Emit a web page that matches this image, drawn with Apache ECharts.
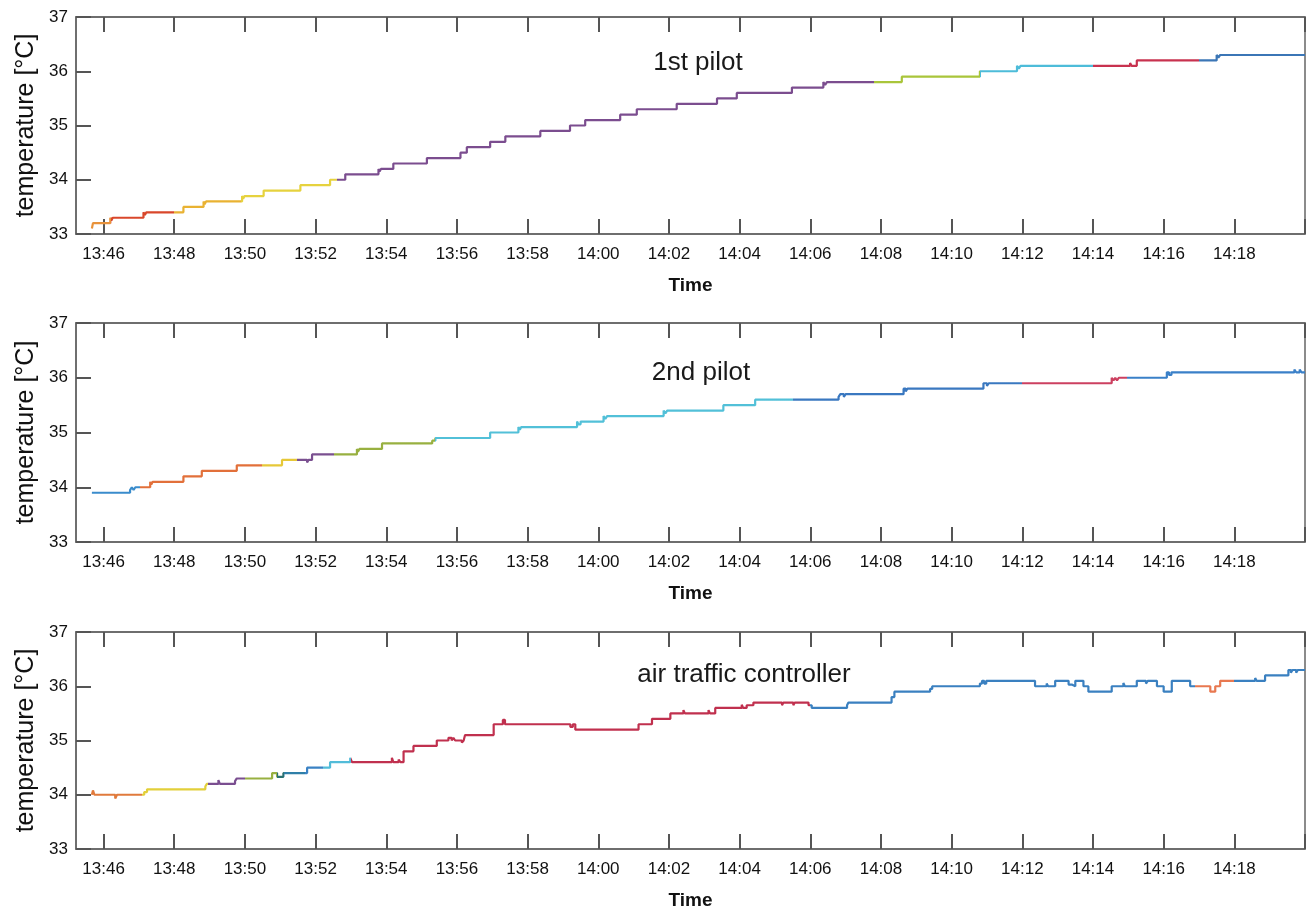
<!DOCTYPE html>
<html>
<head>
<meta charset="utf-8">
<script src="https://cdn.jsdelivr.net/npm/echarts@6/dist/echarts.min.js"></script>
<style>
html,body{margin:0;padding:0;background:#fff;}
#chart{width:1309px;height:912px;}
</style>
</head>
<body>
<div id="chart"></div>
<script>
// x values are minutes after 13:00
const xTickValues = [46,48,50,52,54,56,58,60,62,64,66,68,70,72,74,76,78,80];
const xLabelValues = [46,48,50,52,54,56,58,60,62,64,66,68,70,72,74,76,78];
const xTickLabels = ['13:46','13:48','13:50','13:52','13:54','13:56','13:58','14:00','14:02','14:04','14:06','14:08','14:10','14:12','14:14','14:16','14:18'];
const yTicks = [33,34,35,36,37];
const panelTitles = ['1st pilot','2nd pilot','air traffic controller'];

// 1st pilot: change points (time, temperature)
const p1Time = [45.67,45.70,46.19,46.22,46.26,47.13,47.17,47.21,48.26,48.83,48.86,48.90,49.92,49.95,49.99,50.53,51.57,52.41,52.84,53.78,53.81,53.85,54.20,55.15,56.10,56.28,56.94,57.37,58.36,59.20,59.63,60.62,61.09,62.22,63.36,63.92,65.48,66.37,66.42,66.47,68.59,70.80,71.85,71.90,71.95,75.05,75.09,75.24,77.50,77.55,77.60,80.00];
const p1Temp = [33.1,33.2,33.3,33.25,33.3,33.4,33.35,33.4,33.5,33.6,33.55,33.6,33.7,33.65,33.7,33.8,33.9,34.0,34.1,34.2,34.15,34.2,34.3,34.4,34.5,34.6,34.7,34.8,34.9,35.0,35.1,35.2,35.3,35.4,35.5,35.6,35.7,35.8,35.75,35.8,35.9,36.0,36.1,36.05,36.1,36.15,36.1,36.2,36.3,36.25,36.3,36.3];
const p1ColorStart = [45.0,46.2,48.0,49.9,52.6,67.8,70.8,74.0,77.0];
const p1Colors = ['#e8923a','#d9472b','#e9b232','#e6d23e','#7b4d8f','#a9c53a','#4dbcd9','#c8324f','#3b76b6'];

// 2nd pilot
const p2Time = [45.67,46.75,46.80,46.85,46.90,47.32,47.35,47.39,48.26,48.78,49.77,51.05,51.76,51.80,51.90,53.17,53.20,53.24,53.88,55.30,55.39,56.94,57.74,57.78,57.82,59.40,59.44,59.50,60.15,60.20,60.25,61.85,61.90,61.95,63.54,64.44,66.80,66.85,66.95,67.00,68.64,68.70,68.75,70.90,71.00,71.05,74.53,74.58,74.63,74.68,74.73,76.09,76.15,76.22,79.70,79.75,79.85,79.90,80.00];
const p2Temp = [33.9,33.95,34.0,33.95,34.0,34.1,34.05,34.1,34.2,34.3,34.4,34.5,34.45,34.5,34.6,34.7,34.65,34.7,34.8,34.85,34.9,35.0,35.1,35.05,35.1,35.2,35.15,35.2,35.3,35.25,35.3,35.4,35.35,35.4,35.5,35.6,35.65,35.7,35.65,35.7,35.8,35.75,35.8,35.9,35.85,35.9,36.0,35.95,36.0,35.95,36.0,36.1,36.05,36.1,36.15,36.1,36.15,36.1,36.1];
const p2ColorStart = [45.0,47.04,50.48,51.47,52.51,55.39,65.52,71.99,74.96];
const p2Colors = ['#3a8ccc','#e2703a','#e6c838','#7a5090','#98b040','#52c0d8','#3a78c0','#cc4060','#3a80c8'];

// air traffic controller
const p3Time = [45.67,45.70,45.74,46.33,46.38,47.15,47.23,48.88,48.92,49.25,49.29,49.72,49.77,50.77,50.91,51.09,51.76,52.41,52.98,53.03,54.16,54.20,54.35,54.40,54.49,54.77,55.43,55.76,55.85,55.90,55.95,56.14,56.19,56.23,57.04,57.30,57.36,59.21,59.28,59.35,61.14,61.52,62.04,62.41,62.45,63.12,63.16,63.31,64.06,64.10,64.20,64.39,65.20,65.24,65.52,65.56,65.95,66.04,67.04,67.08,68.30,68.38,69.39,69.45,70.80,70.86,70.92,70.98,72.36,72.69,72.73,72.93,73.31,73.40,73.50,73.73,73.87,74.53,74.86,74.90,75.24,75.50,75.55,75.81,76.00,76.23,76.75,77.32,77.46,77.60,78.59,78.63,78.87,79.53,79.60,79.65,79.75,79.80,80.00];
const p3Temp = [34.0,34.08,34.0,33.93,34.0,34.05,34.1,34.15,34.2,34.27,34.2,34.25,34.3,34.4,34.33,34.4,34.5,34.6,34.68,34.6,34.68,34.6,34.65,34.6,34.8,34.9,35.0,35.05,35.0,35.05,35.0,34.96,35.0,35.1,35.3,35.38,35.3,35.25,35.3,35.2,35.3,35.4,35.5,35.56,35.5,35.56,35.5,35.6,35.66,35.6,35.65,35.7,35.65,35.7,35.65,35.7,35.65,35.6,35.65,35.7,35.8,35.9,35.95,36.0,36.05,36.1,36.05,36.1,36.0,36.05,36.0,36.1,36.03,36.0,36.1,36.0,35.9,36.0,36.06,36.0,36.1,36.05,36.1,36.0,35.9,36.1,36.0,35.9,36.0,36.1,36.15,36.1,36.2,36.3,36.25,36.3,36.25,36.3,36.3];
const p3ColorStart = [45.0,47.1,48.95,50.0,50.9,51.1,51.7,52.2,53.0,66.0,76.9,78.0];
const p3Colors = ['#e07a3c','#e2cf3a','#7a4e90','#98b040','#2a7070','#2f7fa8','#3a82c4','#52bcd9','#c0304e','#3a80c0','#e87850','#3a80c0'];

const panels = [
  {time:p1Time, temp:p1Temp, cs:p1ColorStart, cols:p1Colors, top:17, height:217, title:[698,63]},
  {time:p2Time, temp:p2Temp, cs:p2ColorStart, cols:p2Colors, top:323, height:219, title:[701,373]},
  {time:p3Time, temp:p3Temp, cs:p3ColorStart, cols:p3Colors, top:632, height:217, title:[744,675]}
];

const FONT = '"Liberation Sans", Arial, sans-serif';
const frameColor = '#666';
const labelOf = v => { const i = xLabelValues.indexOf(Math.round(v)); return i >= 0 ? xTickLabels[i] : ''; };

const grid = [], xAxis = [], yAxis = [], series = [], visualMap = [], graphic = [];
panels.forEach((p, i) => {
  grid.push({left:76, right:4, top:p.top, height:p.height, show:true, borderColor:frameColor, borderWidth:1.5, backgroundColor:'#fff'});
  xAxis.push({
    type:'value', gridIndex:i, position:'bottom', min:45.22, max:80,
    axisLine:{show:true, onZero:false, lineStyle:{color:frameColor, width:1.5}},
    axisTick:{show:true, inside:true, length:15, customValues:xTickValues, lineStyle:{color:'#555', width:2}},
    axisLabel:{show:true, customValues:xLabelValues, formatter:labelOf, fontSize:17, color:'#111', margin:12, fontFamily:FONT},
    splitLine:{show:false},
    name:'Time', nameLocation:'middle', nameGap:42,
    nameTextStyle:{fontSize:19, fontWeight:'bold', color:'#111', fontFamily:FONT}
  });
  xAxis.push({
    type:'value', gridIndex:i, position:'top', min:45.22, max:80,
    axisLine:{show:true, onZero:false, lineStyle:{color:frameColor, width:1.5}},
    axisTick:{show:true, inside:true, length:15, customValues:xTickValues, lineStyle:{color:'#555', width:2}},
    axisLabel:{show:false}, splitLine:{show:false}
  });
  yAxis.push({
    type:'value', gridIndex:i, min:yTicks[0], max:yTicks[yTicks.length - 1], interval:1,
    axisLine:{show:true, onZero:false, lineStyle:{color:frameColor, width:1.5}},
    axisTick:{show:true, inside:true, length:15, lineStyle:{color:'#555', width:2}},
    axisLabel:{fontSize:17, color:'#111', margin:8, fontFamily:FONT},
    splitLine:{show:false},
    name:'temperature [°C]', nameLocation:'middle', nameRotate:90, nameGap:37,
    nameTextStyle:{fontSize:25, color:'#111', fontFamily:FONT}
  });
  series.push({
    type:'line', xAxisIndex:i*2, yAxisIndex:i, step:'end', showSymbol:false, symbol:'none',
    lineStyle:{width:2.2}, animation:false,
    data:p.time.map((t, k) => [t, p.temp[k]])
  });
  visualMap.push({
    type:'piecewise', show:false, seriesIndex:i, dimension:0,
    pieces:p.cs.map((s, k) => ({gte:s, lt:(k + 1 < p.cs.length ? p.cs[k + 1] : 90), color:p.cols[k]}))
  });
  graphic.push({
    type:'text', x:p.title[0], y:p.title[1],
    style:{text:panelTitles[i], font:'26px ' + FONT, fill:'#1a1a1a', textAlign:'center', textVerticalAlign:'middle'}
  });
});

const chart = echarts.init(document.getElementById('chart'), null, {renderer:'canvas'});
chart.setOption({
  backgroundColor:'#fff', animation:false,
  textStyle:{fontFamily:FONT},
  grid, xAxis, yAxis, series, visualMap, graphic
});
</script>
</body>
</html>
